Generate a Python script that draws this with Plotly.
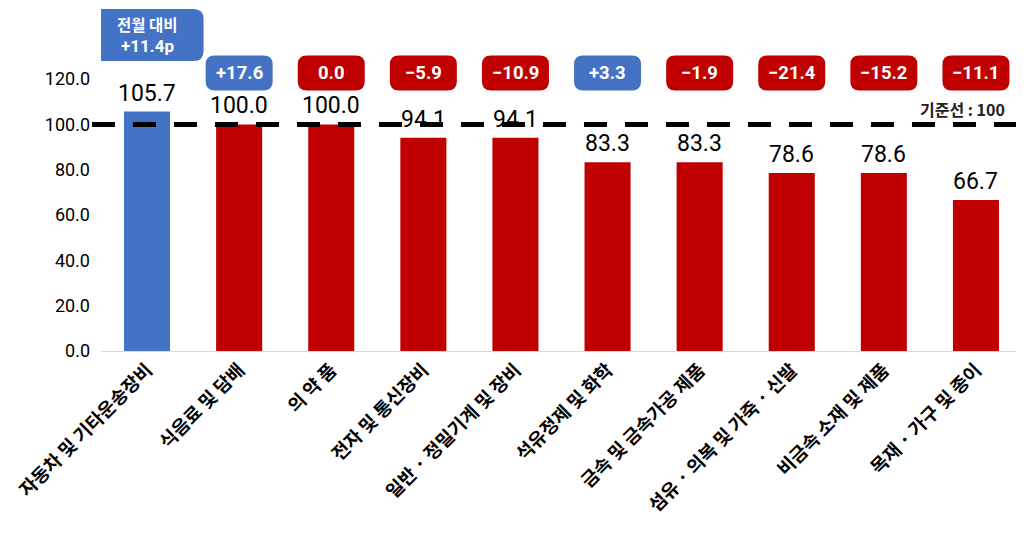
import plotly.graph_objects as go

categories = ["자동차 및 기타운송장비", "식음료 및 담배", "의 약 품", "전자 및 통신장비",
              "일반 · 정밀기계 및 장비", "석유정제 및 화학", "금속 및 금속가공 제품",
              "섬유 · 의복 및 가죽 · 신발", "비금속 소재 및 제품", "목재 · 가구 및 종이"]
values = [105.7, 100.0, 100.0, 94.1, 94.1, 83.3, 83.3, 78.6, 78.6, 66.7]
changes = [11.4, 17.6, 0.0, -5.9, -10.9, 3.3, -1.9, -21.4, -15.2, -11.1]
baseline = 100
y_ticks = [0, 20, 40, 60, 80, 100, 120]

BLUE = "#4472C4"
RED = "#C00000"
NUM_FONT = "Liberation Sans Narrow, Roboto, sans-serif"
KR_FONT = "Noto Sans CJK KR, sans-serif"


def rounded_rect(w, h, r):
    a, b = w / 2, h / 2
    return (f"M {-a + r},{-b} L {a - r},{-b} Q {a},{-b} {a},{-b + r} "
            f"L {a},{b - r} Q {a},{b} {a - r},{b} L {-a + r},{b} "
            f"Q {-a},{b} {-a},{b - r} L {-a},{-b + r} Q {-a},{-b} {-a + r},{-b} Z")


def fmt_change(v):
    if v > 0:
        return f"+{v:.1f}"
    if v < 0:
        return f"\u2212{abs(v):.1f}"
    return f"{v:.1f}"


bar_colors = [BLUE] + [RED] * (len(values) - 1)

fig = go.Figure()
fig.add_trace(go.Bar(x=categories, y=values, marker_color=bar_colors,
                     marker_line_width=0, hoverinfo="x+y"))

# value labels above bars
for cat, v in zip(categories, values):
    fig.add_annotation(x=cat, y=v, text=f"{v:.1f}", showarrow=False,
                       yanchor="bottom", yshift=3,
                       font=dict(family=NUM_FONT, size=23, color="#000000"))

# change boxes (first one carries the "전월 대비" header)
for i, (cat, c) in enumerate(zip(categories, changes)):
    color = BLUE if c > 0 else RED
    if i == 0:
        w, h, yc = 113, 52, 139.5
        fig.add_shape(type="path", xref="x", yref="y", xsizemode="pixel", ysizemode="pixel",
                      xanchor=cat, yanchor=yc, path=rounded_rect(w, h, 10),
                      fillcolor=color, line=dict(width=0))
        fig.add_annotation(x=cat, y=yc, yshift=11, text="<b>전월 대비</b>", showarrow=False,
                           font=dict(family=KR_FONT, size=15.5, color="white"))
        fig.add_annotation(x=cat, y=yc, yshift=-11, text=f"<b>{fmt_change(c)}p</b>",
                           showarrow=False, font=dict(family=NUM_FONT, size=17, color="white"))
    else:
        w, h, yc = 67, 35, 122.7
        fig.add_shape(type="path", xref="x", yref="y", xsizemode="pixel", ysizemode="pixel",
                      xanchor=cat, yanchor=yc, path=rounded_rect(w, h, 9),
                      fillcolor=color, line=dict(width=0))
        fig.add_annotation(x=cat, y=yc, text=f"<b>{fmt_change(c)}</b>", showarrow=False,
                           font=dict(family=NUM_FONT, size=18.5, color="white"))

# baseline
fig.add_shape(type="line", xref="paper", yref="y", x0=-0.0098, x1=1.01, y0=baseline, y1=baseline,
              line=dict(color="black", width=5, dash="23px,18px"))
fig.add_annotation(xref="paper", yref="y", x=0.984, y=baseline, yshift=15, xanchor="right",
                   text=f"<b>기준선 : {baseline}</b>", showarrow=False,
                   font=dict(family=KR_FONT, size=16, color="#222222"))

fig.update_layout(
    width=1016, height=526,
    margin=dict(l=93, r=2, t=0, b=183),
    plot_bgcolor="white", paper_bgcolor="white",
    bargap=0.5, showlegend=False,
    xaxis=dict(range=[-0.5, len(categories) - 0.5], tickangle=-45, showline=True,
               linecolor="#d9d9d9", linewidth=1, showgrid=False, ticks="", automargin=False,
               tickfont=dict(family=KR_FONT, size=18.5, color="#000000", weight="bold")),
    yaxis=dict(range=[0, 151.4], tickvals=y_ticks, tickformat=".1f", showgrid=False,
               zeroline=False, showline=False, ticks="", ticklabelstandoff=10,
               automargin=False,
               tickfont=dict(family=NUM_FONT, size=18, color="#000000")),
)

fig.write_html("out.html")
